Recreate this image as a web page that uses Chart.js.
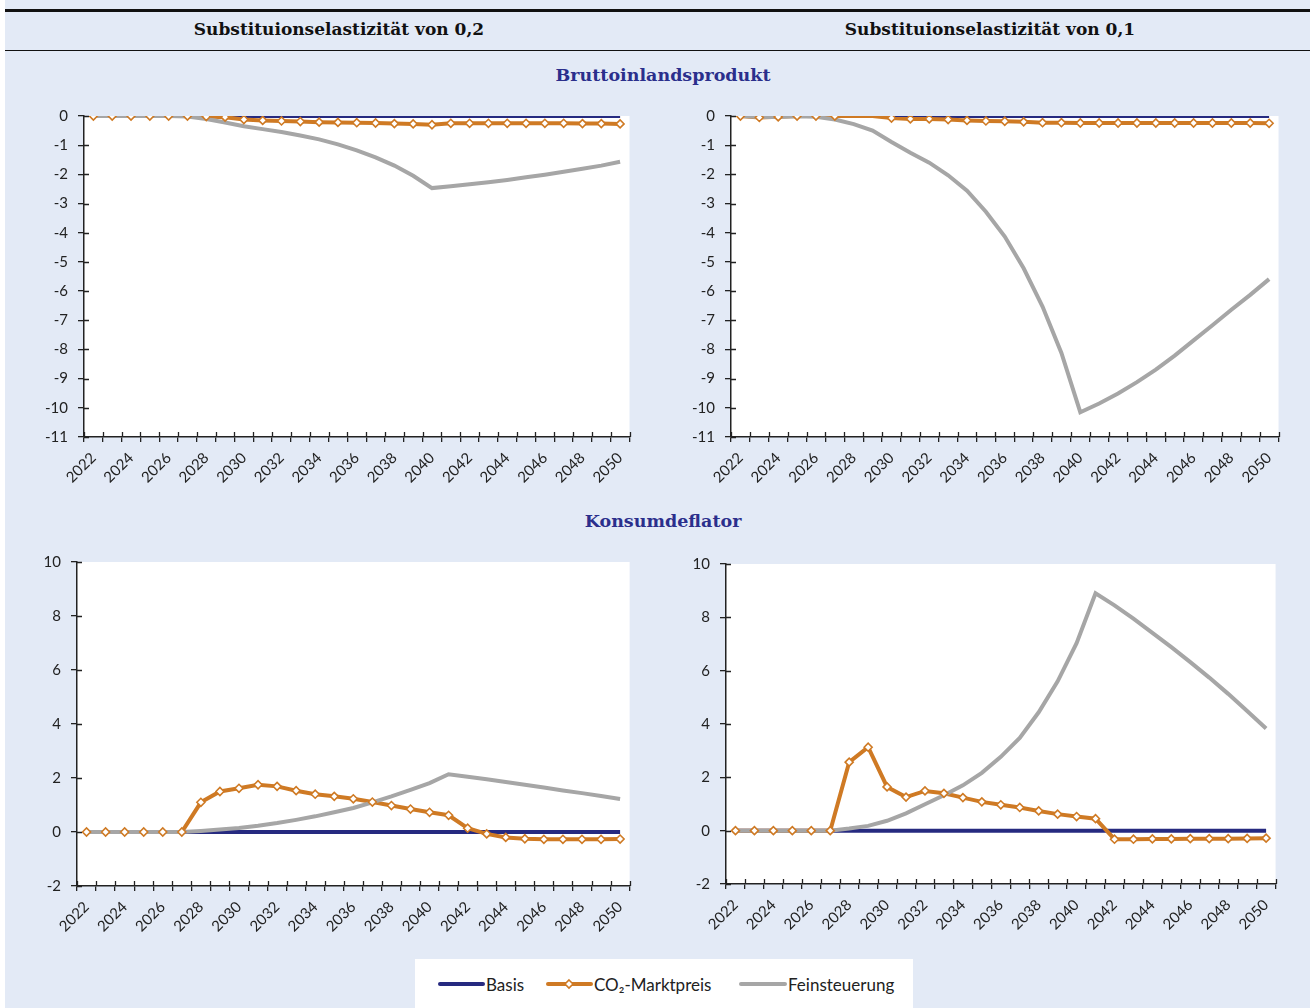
<!DOCTYPE html>
<html><head><meta charset="utf-8">
<script src="https://cdn.jsdelivr.net/npm/chart.js@4.4.1/dist/chart.umd.min.js"></script>
<style>
html,body{margin:0;padding:0;background:#fff;}
#page{position:relative;width:1310px;height:1008px;overflow:hidden;background:#fff;}
#panel{position:absolute;left:5px;top:0;width:1305px;height:1008px;background:#e3eaf6;}
.rule{position:absolute;left:5px;width:1305px;background:#111;}
.hdr{position:absolute;font-family:"DejaVu Serif",serif;font-weight:bold;font-size:17px;color:#111;transform:translate(-50%,-50%);white-space:nowrap;}
.sec{color:#2b2f8c;font-size:17.5px;}
.cv{position:absolute;}
#legend{position:absolute;left:415px;top:959px;width:498px;height:49px;background:#fff;font-family:Lato,"Open Sans",sans-serif;font-size:17px;color:#222;}
#legend .t{position:absolute;top:50%;transform:translateY(-50%);white-space:nowrap;}
#legend svg{position:absolute;top:0;left:0;}
</style></head>
<body>
<div id="page">
<div id="panel"></div>
<div class="rule" style="top:9px;height:3px;"></div>
<div class="rule" style="top:50px;height:1px;"></div>
<div class="hdr" style="left:339px;top:29px;">Substituionselastizität von 0,2</div>
<div class="hdr" style="left:990px;top:29px;">Substituionselastizität von 0,1</div>
<div class="hdr sec" style="left:663px;top:75px;">Bruttoinlandsprodukt</div>
<div class="hdr sec" style="left:663px;top:521px;">Konsumdeflator</div>
<canvas id="c1" class="cv" width="610" height="400" style="left:30px;top:95px;"></canvas>
<canvas id="c2" class="cv" width="612" height="400" style="left:677px;top:95px;"></canvas>
<canvas id="c3" class="cv" width="617" height="400" style="left:23px;top:541px;"></canvas>
<canvas id="c4" class="cv" width="614" height="400" style="left:672px;top:541px;"></canvas>
<div id="legend">
<svg width="498" height="49">
<line x1="25" y1="25" x2="68" y2="25" stroke="#262a80" stroke-width="4" stroke-linecap="round"/>
<line x1="133" y1="25" x2="176" y2="25" stroke="#cf7a24" stroke-width="4" stroke-linecap="round"/>
<polygon points="154,21 158,25 154,29 150,25" fill="#fff" stroke="#cf7a24" stroke-width="1.6"/>
<line x1="326" y1="25" x2="370" y2="25" stroke="#a6a6a6" stroke-width="4" stroke-linecap="round"/>
</svg>
<span class="t" style="left:71px;">Basis</span>
<span class="t" style="left:179px;">CO₂-Marktpreis</span>
<span class="t" style="left:373px;">Feinsteuerung</span>
</div>
</div>
<script>
const years = ['2022','2023','2024','2025','2026','2027','2028','2029','2030','2031','2032','2033','2034','2035','2036','2037','2038','2039','2040','2041','2042','2043','2044','2045','2046','2047','2048','2049','2050'];
const seriesNames = ['Basis','CO₂-Marktpreis','Feinsteuerung'];

// Bruttoinlandsprodukt, Substitutionselastizität 0,2
const bip02Basis = [0,0,0,0,0,0,0,0,0,0,0,0,0,0,0,0,0,0,0,0,0,0,0,0,0,0,0,0,0];
const bip02Co2   = [0,0,0,0,0,0,-0.02,-0.04,-0.12,-0.15,-0.17,-0.19,-0.21,-0.22,-0.23,-0.24,-0.26,-0.27,-0.30,-0.25,-0.25,-0.25,-0.25,-0.25,-0.25,-0.25,-0.26,-0.26,-0.27];
const bip02Fein  = [0,0,0,0,0,-0.02,-0.10,-0.22,-0.35,-0.45,-0.55,-0.67,-0.80,-0.97,-1.18,-1.42,-1.70,-2.05,-2.47,-2.41,-2.34,-2.27,-2.19,-2.10,-2.01,-1.91,-1.81,-1.70,-1.57];

// Bruttoinlandsprodukt, Substitutionselastizität 0,1
const bip01Basis = [0,0,0,0,0,0,0,0,0,0,0,0,0,0,0,0,0,0,0,0,0,0,0,0,0,0,0,0,0];
const bip01Co2   = [0,-0.05,-0.03,0,0,0,0,0,-0.07,-0.10,-0.10,-0.12,-0.15,-0.17,-0.18,-0.20,-0.23,-0.23,-0.24,-0.24,-0.24,-0.24,-0.24,-0.24,-0.24,-0.24,-0.24,-0.24,-0.25];
const bip01Fein  = [0,-0.03,-0.03,-0.01,-0.03,-0.12,-0.28,-0.50,-0.89,-1.26,-1.60,-2.03,-2.56,-3.28,-4.13,-5.22,-6.53,-8.12,-10.15,-9.85,-9.51,-9.12,-8.69,-8.21,-7.69,-7.17,-6.64,-6.13,-5.59];

// Konsumdeflator, Substitutionselastizität 0,2
const defl02Basis = [0,0,0,0,0,0,0,0,0,0,0,0,0,0,0,0,0,0,0,0,0,0,0,0,0,0,0,0,0];
const defl02Co2   = [0,0,0,0,0,0,1.10,1.50,1.62,1.75,1.69,1.53,1.40,1.32,1.23,1.11,0.98,0.85,0.73,0.62,0.14,-0.07,-0.20,-0.25,-0.27,-0.27,-0.27,-0.27,-0.26];
const defl02Fein  = [0,0,0,0,0,0,0.04,0.09,0.15,0.23,0.33,0.45,0.58,0.73,0.89,1.10,1.32,1.56,1.81,2.14,2.05,1.95,1.85,1.75,1.65,1.54,1.44,1.33,1.22];

// Konsumdeflator, Substitutionselastizität 0,1
const defl01Basis = [0,0,0,0,0,0,0,0,0,0,0,0,0,0,0,0,0,0,0,0,0,0,0,0,0,0,0,0,0];
const defl01Co2   = [0,0,0,0,0,0,2.57,3.13,1.64,1.26,1.49,1.40,1.24,1.08,0.97,0.87,0.74,0.62,0.53,0.45,-0.32,-0.32,-0.31,-0.31,-0.30,-0.30,-0.30,-0.29,-0.28];
const defl01Fein  = [0,0,0,0,0,0,0.08,0.18,0.37,0.65,0.99,1.33,1.70,2.17,2.77,3.48,4.44,5.60,7.03,8.90,8.45,7.95,7.42,6.88,6.32,5.74,5.13,4.49,3.83];

const NAVY = '#262a80', ORANGE = '#cf7a24', GRAY = '#a6a6a6', AXIS = '#222';
const FONT = 'Lato, "Open Sans", sans-serif';

const axisMarks = {
  id: 'axisMarks',
  beforeDraw(chart) {
    const a = chart.chartArea, c = chart.ctx;
    c.save(); c.fillStyle = '#fff';
    c.fillRect(a.left, a.top, a.right - a.left, a.bottom - a.top);
    c.restore();
  },
  afterDraw(chart) {
    const a = chart.chartArea, c = chart.ctx;
    const xs = chart.scales.x, ys = chart.scales.y;
    c.save(); c.strokeStyle = AXIS; c.lineWidth = 1.3;
    c.beginPath();
    ys.ticks.forEach(t => { const y = Math.round(ys.getPixelForValue(t.value)) + 0.5; c.moveTo(a.left, y); c.lineTo(a.left + 5, y); });
    for (let i = 0; i <= xs.ticks.length; i++) { const x = Math.round(xs.getPixelForValue(i - 0.5)) + 0.5; c.moveTo(x, a.bottom); c.lineTo(x, a.bottom - 5); }
    c.stroke(); c.restore();
  }
};

function makeChart(id, basis, co2, fein, ymin, ymax, step, opts) {
  const o = Object.assign({padTop: 21, padRight: 10, yW: 54, xH: 58, hidePts: []}, opts);
  return new Chart(document.getElementById(id), {
    type: 'line',
    data: {
      labels: years,
      datasets: [
        {label: seriesNames[0], data: basis, borderColor: NAVY, borderWidth: 4, pointRadius: 0, order: 4},
        {label: seriesNames[1], data: co2, borderColor: ORANGE, borderWidth: 4, pointRadius: 0, order: 3},
        {label: seriesNames[2], data: fein, borderColor: GRAY, borderWidth: 4, pointRadius: 0, order: 2},
        // markers of the CO2 series are drawn above all lines (as in the original)
        {label: seriesNames[1] + ' (Marker)', data: co2, showLine: false, pointStyle: 'rectRot',
          pointRadius: ctx => o.hidePts.includes(ctx.dataIndex) ? 0 : 4,
          pointBackgroundColor: '#fff', pointBorderColor: ORANGE, pointBorderWidth: 1.6, order: 1}
      ]
    },
    options: {
      responsive: false, animation: false, events: [],
      layout: {padding: {top: o.padTop, right: o.padRight, left: 0, bottom: 0}},
      plugins: {legend: {display: false}, tooltip: {enabled: false}},
      scales: {
        x: {
          offset: true,
          grid: {offset: true, drawOnChartArea: false, drawTicks: true, tickLength: 5, color: AXIS, lineWidth: 1.3},
          border: {display: true, color: AXIS, width: 1.5},
          ticks: {autoSkip: false, minRotation: 45, maxRotation: 45, padding: 7, color: AXIS,
            font: {family: FONT, size: 15},
            callback: function(v, i) { return i % 2 === 0 ? this.getLabelForValue(v) : ''; }},
          afterFit: s => { s.height = o.xH; }
        },
        y: {
          min: ymin, max: ymax,
          grid: {drawOnChartArea: false, drawTicks: true, tickLength: 6, color: AXIS, lineWidth: 1.3},
          border: {display: true, color: AXIS, width: 1.5},
          ticks: {stepSize: step, padding: 10, color: AXIS, font: {family: FONT, size: 15}},
          afterFit: s => { s.width = o.yW; }
        }
      }
    },
    plugins: [axisMarks]
  });
}

makeChart('c1', bip02Basis, bip02Co2, bip02Fein, -11, 0, 1, {padTop: 21, xH: 58});
makeChart('c2', bip01Basis, bip01Co2, bip01Fein, -11, 0, 1, {padTop: 21, xH: 58, hidePts: [6, 7]});
makeChart('c3', defl02Basis, defl02Co2, defl02Fein, -2, 10, 2, {padTop: 21, xH: 55});
makeChart('c4', defl01Basis, defl01Co2, defl01Fein, -2, 10, 2, {padTop: 23, xH: 57});
</script>
</body></html>
